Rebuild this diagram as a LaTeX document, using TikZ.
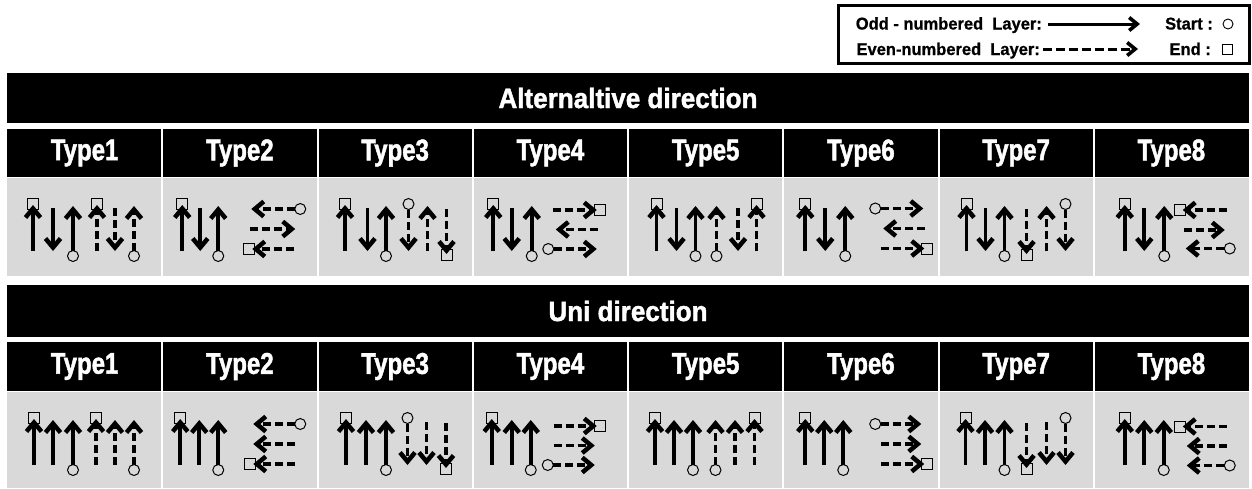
\documentclass[tikz,border=0pt]{standalone}
\usepackage{fontspec}
\setmainfont{Liberation Sans}
\newfontfamily\headfont[FakeStretch=0.8,BoldFeatures={FakeBold=1.5}]{Liberation Sans}
\newfontfamily\titlefont[FakeStretch=0.93,BoldFeatures={FakeBold=1.5}]{Liberation Sans}
\newfontfamily\legfont[FakeStretch=0.97,BoldFeatures={FakeBold=0.8}]{Liberation Sans}
\usetikzlibrary{arrows.meta}

\definecolor{cellgray}{HTML}{D9D9D9}

\tikzset{
  oddlayer/.style={line width=3.8pt, -{Straight Barb[length=9pt,width=15pt,line width=4.5pt]}},
  evenlayer/.style={oddlayer, dash pattern=on 8pt off 4pt},
  startmk/.style={circle, draw, line width=1pt, fill=cellgray, minimum size=11pt, inner sep=0pt},
  endmk/.style={rectangle, draw, line width=1pt, fill=cellgray, minimum size=11pt, inner sep=0pt},
  bandtext/.style={text=white, font=\titlefont\bfseries\fontsize{28}{30}\selectfont},
  typetext/.style={text=white, font=\headfont\bfseries\fontsize{30}{32}\selectfont},
  legtext/.style={font=\legfont\bfseries\fontsize{17}{19}\selectfont, anchor=base east, inner sep=0pt},
  legarrow/.style={line width=3pt, -{Straight Barb[length=8pt,width=13pt,line width=3.6pt]}},
  sepline/.style={white, line width=2pt},
}

% start / end markers
\newcommand\markstart[2]{\node[startmk] at (#1,#2) {};}
\newcommand\markend[2]{\node[endmk] at (#1,#2) {};}
% vertical layer arrows inside a cell (local coordinates, y downwards)
\newcommand\arrUp[2]{\draw[#1] (#2,73) -- (#2,28);}
\newcommand\arrDown[2]{\draw[#1] (#2,30) -- (#2,73);}
\newcommand\arrUpS[2]{\markstart{#2}{78}\draw[#1] (#2,72.5) -- (#2,28);}
\newcommand\arrUpE[2]{\markend{#2}{26}\draw[#1] (#2,73) -- (#2,27);}
\newcommand\arrDownS[2]{\markstart{#2}{26}\draw[#1] (#2,31.5) -- (#2,73);}
\newcommand\arrDownE[2]{\markend{#2}{77}\draw[#1] (#2,31) -- (#2,76);}

\begin{document}
\begin{tikzpicture}[x=1pt,y=-1pt]
\useasboundingbox (0,0) rectangle (1252,488);
\fill[white] (0,0) rectangle (1252,488);

% ---------- legend ----------
\draw[line width=3pt, fill=white] (838,5) rectangle (1249,63);
\node[legtext] (lodd) at (1042,29.5) {Odd - numbered\ \ Layer:};
\node[legtext] (leven) at (1040,55) {Even-numbered\ \ Layer:};
\coordinate (loddA) at (1048,24);
\coordinate (loddB) at (1140,24);
\coordinate (levenA) at (1043,49);
\coordinate (levenB) at (1138,49);
\draw[legarrow] (loddA) -- (loddB);
\draw[legarrow, dash pattern=on 9pt off 4pt] (levenA) -- (levenB);
\node[legtext] (lstart) at (1213,29.5) {Start :};
\node[legtext] (lend) at (1211,55) {End :};
\node[circle, draw, line width=0.9pt, minimum size=10pt, inner sep=0pt] (lci) at (1228,24) {};
\node[rectangle, draw, line width=0.9pt, minimum size=10pt, inner sep=0pt] (lsq) at (1227,49) {};

% ---------- table frames ----------
\fill[black] (7,73) rectangle (1249,123);
\node[bandtext] (band1) at (628,98) {Alternaltive direction};
\fill[black] (7,129) rectangle (1249,177);
\fill[cellgray] (7,178) rectangle (1249,276);

\fill[black] (7,285) rectangle (1249,337);
\node[bandtext] (band2) at (628,311) {Uni direction};
\fill[black] (7,342) rectangle (1249,391);
\fill[cellgray] (7,392) rectangle (1249,488);

\foreach \i in {1,...,7} {
  \draw[sepline] ({7+155.25*\i},129) -- ({7+155.25*\i},276);
  \draw[sepline] ({7+155.25*\i},342) -- ({7+155.25*\i},488);
}
\draw[white, line width=1pt] (7,177.5) -- (1249,177.5);
\draw[white, line width=1pt] (7,391.5) -- (1249,391.5);

\foreach \i in {1,...,8} {
  \node[typetext] at ({7+155.25*(\i-0.5)},153) {Type\i};
  \node[typetext] at ({7+155.25*(\i-0.5)},366.5) {Type\i};
}

% ---------- alternative direction ----------
\begin{scope}[shift={(7,178)}]
  \arrUpE{oddlayer}{26} \arrDown{oddlayer}{46} \arrUpS{oddlayer}{66}
  \arrUpE{evenlayer}{90} \arrDown{evenlayer}{108} \arrUpS{evenlayer}{127}
\end{scope}
\begin{scope}[shift={(162.25,178)}]
  \arrUpE{oddlayer}{20} \arrDown{oddlayer}{38} \arrUpS{oddlayer}{56}
  \markstart{138}{31} \draw[evenlayer] (132.5,31) -- (89,31);
  \draw[evenlayer] (88,51) -- (133,51);
  \markend{87}{71} \draw[evenlayer] (132,71) -- (90,71);
\end{scope}
\begin{scope}[shift={(317.5,178)}]
  \arrUpE{oddlayer}{27.5} \arrDown{oddlayer}{50} \arrUpS{oddlayer}{68.5}
  \arrDownS{evenlayer}{91} \arrUp{evenlayer}{110} \arrDownE{evenlayer}{129}
\end{scope}
\begin{scope}[shift={(472.75,178)}]
  \arrUpE{oddlayer}{20.5} \arrDown{oddlayer}{39} \arrUpS{oddlayer}{59}
  \markend{127}{32} \draw[evenlayer] (80,32) -- (124,32);
  \draw[evenlayer] (125,51.5) -- (83,51.5);
  \markstart{75.5}{71} \draw[evenlayer] (81,71) -- (124,71);
\end{scope}
\begin{scope}[shift={(628,178)}]
  \arrUpE{oddlayer}{28.5} \arrDown{oddlayer}{48.5} \arrUpS{oddlayer}{67.5}
  \arrUpS{evenlayer}{88.5} \arrDown{evenlayer}{110} \arrUpE{evenlayer}{128.5}
\end{scope}
\begin{scope}[shift={(783.25,178)}]
  \arrUpE{oddlayer}{22} \arrDown{oddlayer}{42} \arrUpS{oddlayer}{62}
  \markstart{92}{30.5} \draw[evenlayer] (97.5,30.5) -- (140,30.5);
  \draw[evenlayer] (142,50.5) -- (100,50.5);
  \markend{143.5}{70.5} \draw[evenlayer] (98,70.5) -- (141,70.5);
\end{scope}
\begin{scope}[shift={(938.5,178)}]
  \arrUpE{oddlayer}{28} \arrDown{oddlayer}{47} \arrUpS{oddlayer}{66}
  \arrDownE{evenlayer}{88} \arrUp{evenlayer}{108} \arrDownS{evenlayer}{127}
\end{scope}
\begin{scope}[shift={(1093.75,178)}]
  \arrUpE{oddlayer}{31} \arrDown{oddlayer}{50.5} \arrUpS{oddlayer}{70.5}
  \markend{86}{32} \draw[evenlayer] (133,32) -- (89,32);
  \draw[evenlayer] (90,52) -- (131,52);
  \markstart{136}{70.5} \draw[evenlayer] (130.5,70.5) -- (92,70.5);
\end{scope}

% ---------- uni direction ----------
\begin{scope}[shift={(7,392)}]
  \arrUpE{oddlayer}{27} \arrUp{oddlayer}{46} \arrUpS{oddlayer}{66}
  \arrUpE{evenlayer}{89} \arrUp{evenlayer}{108} \arrUpS{evenlayer}{127}
\end{scope}
\begin{scope}[shift={(162.25,392)}]
  \arrUpE{oddlayer}{18} \arrUp{oddlayer}{37} \arrUpS{oddlayer}{56}
  \markstart{138}{32} \draw[evenlayer] (132.5,32) -- (91,32);
  \draw[evenlayer] (133,52) -- (91,52);
  \markend{88}{72} \draw[evenlayer] (133,72) -- (91,72);
\end{scope}
\begin{scope}[shift={(317.5,392)}]
  \arrUpE{oddlayer}{28.5} \arrUp{oddlayer}{48.5} \arrUpS{oddlayer}{68.5}
  \arrDownS{evenlayer}{90} \arrDown{evenlayer}{109} \arrDownE{evenlayer}{128.5}
\end{scope}
\begin{scope}[shift={(472.75,392)}]
  \arrUpE{oddlayer}{19} \arrUp{oddlayer}{39} \arrUpS{oddlayer}{58}
  \markend{127}{34} \draw[evenlayer] (81,34) -- (124,34);
  \draw[evenlayer] (81,53.5) -- (122,53.5);
  \markstart{75}{73} \draw[evenlayer] (80.5,73) -- (122,73);
\end{scope}
\begin{scope}[shift={(628,392)}]
  \arrUpE{oddlayer}{27} \arrUp{oddlayer}{46} \arrUpS{oddlayer}{65}
  \arrUpS{evenlayer}{87.5} \arrUp{evenlayer}{107} \arrUpE{evenlayer}{126.5}
\end{scope}
\begin{scope}[shift={(783.25,392)}]
  \arrUpE{oddlayer}{22} \arrUp{oddlayer}{41} \arrUpS{oddlayer}{60}
  \markstart{92}{32} \draw[evenlayer] (97.5,32) -- (138,32);
  \draw[evenlayer] (98,52) -- (138,52);
  \markend{143.5}{72} \draw[evenlayer] (98,72) -- (141,72);
\end{scope}
\begin{scope}[shift={(938.5,392)}]
  \arrUpE{oddlayer}{27} \arrUp{oddlayer}{46.5} \arrUpS{oddlayer}{66}
  \arrDownE{evenlayer}{88} \arrDown{evenlayer}{108} \arrDownS{evenlayer}{127}
\end{scope}
\begin{scope}[shift={(1093.75,392)}]
  \arrUpE{oddlayer}{31} \arrUp{oddlayer}{50.5} \arrUpS{oddlayer}{70}
  \markend{86}{34.5} \draw[evenlayer] (133,34.5) -- (89,34.5);
  \draw[evenlayer] (133,54) -- (93,54);
  \markstart{136}{73.5} \draw[evenlayer] (130.5,73.5) -- (93,73.5);
\end{scope}
\end{tikzpicture}
\end{document}
